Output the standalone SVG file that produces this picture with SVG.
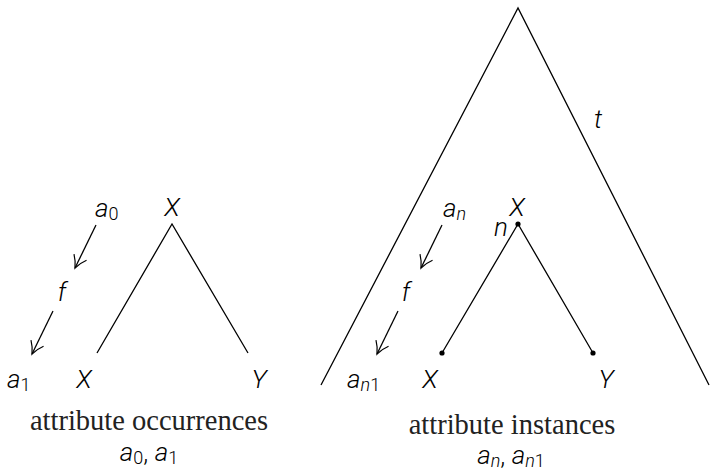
<svg xmlns="http://www.w3.org/2000/svg" width="711" height="472" viewBox="0 0 711 472">
<style>
.ln{stroke:#000;stroke-width:1.3;fill:none}
.m{font-family:Roboto,"DejaVu Sans",sans-serif;font-style:italic;font-weight:300;font-size:26px;fill:#000}
.up{font-style:normal}
.sb{font-size:18px}
.cap{font-family:"Liberation Serif",serif;font-size:28.5px;fill:#222}
.dot{fill:#000}
</style>
<defs>
<marker id="ah" markerWidth="20" markerHeight="20" refX="14" refY="10" orient="auto" markerUnits="userSpaceOnUse">
<path d="M2,3 Q8,8 14,10 Q8,12 2,17" fill="none" stroke="#000" stroke-width="1.2"/>
</marker>
</defs>
<rect width="711" height="472" fill="#fff"/>
<g id="connectors">
<path class="ln" d="M97,353 L172,224 L248,353"/>
<path class="ln" d="M321,385 L518,8 L709,385"/>
<path class="ln" d="M442,353 L518,224 L593,353"/>
<line class="ln" x1="96" y1="225" x2="75" y2="268" marker-end="url(#ah)"/>
<line class="ln" x1="53" y1="311" x2="32" y2="354" marker-end="url(#ah)"/>
<line class="ln" x1="442" y1="225" x2="421" y2="268" marker-end="url(#ah)"/>
<line class="ln" x1="398" y1="311" x2="377" y2="354" marker-end="url(#ah)"/>
</g>
<g id="left-tree">
<text class="m" x="172" y="216" text-anchor="middle">X</text>
<text class="m" x="84" y="388" text-anchor="middle">X</text>
<text class="m" x="259" y="388" text-anchor="middle">Y</text>
<text class="m" x="95" y="217">a<tspan class="up sb" dy="3">0</tspan></text>
<text class="m" x="62" y="301" text-anchor="middle">f</text>
<text class="m" x="7" y="388">a<tspan class="up sb" dy="3">1</tspan></text>
</g>
<g id="right-tree">
<text class="m" x="598" y="128" text-anchor="middle">t</text>
<text class="m" x="517" y="216" text-anchor="middle">X</text>
<text class="m" x="501" y="236" text-anchor="middle">n</text>
<circle class="dot" cx="518" cy="224" r="2.6"/>
<circle class="dot" cx="442" cy="353" r="2.6"/>
<circle class="dot" cx="593" cy="353" r="2.6"/>
<text class="m" x="430" y="388" text-anchor="middle">X</text>
<text class="m" x="606" y="388" text-anchor="middle">Y</text>
<text class="m" x="443" y="217">a<tspan class="sb" dy="3">n</tspan></text>
<text class="m" x="406" y="301" text-anchor="middle">f</text>
<text class="m" x="347" y="388">a<tspan class="sb" dy="3">n</tspan><tspan class="up sb">1</tspan></text>
</g>
<g id="captions">
<text class="cap" x="149" y="430" text-anchor="middle">attribute occurrences</text>
<text class="m" x="149" y="461" text-anchor="middle">a<tspan class="up sb" dy="3">0</tspan><tspan class="up" dy="-3">, </tspan>a<tspan class="up sb" dy="3">1</tspan></text>
<text class="cap" x="512" y="434" text-anchor="middle">attribute instances</text>
<text class="m" x="511" y="464" text-anchor="middle">a<tspan class="sb" dy="3">n</tspan><tspan class="up" dy="-3">, </tspan>a<tspan class="sb" dy="3">n</tspan><tspan class="up sb">1</tspan></text>
</g>
</svg>
